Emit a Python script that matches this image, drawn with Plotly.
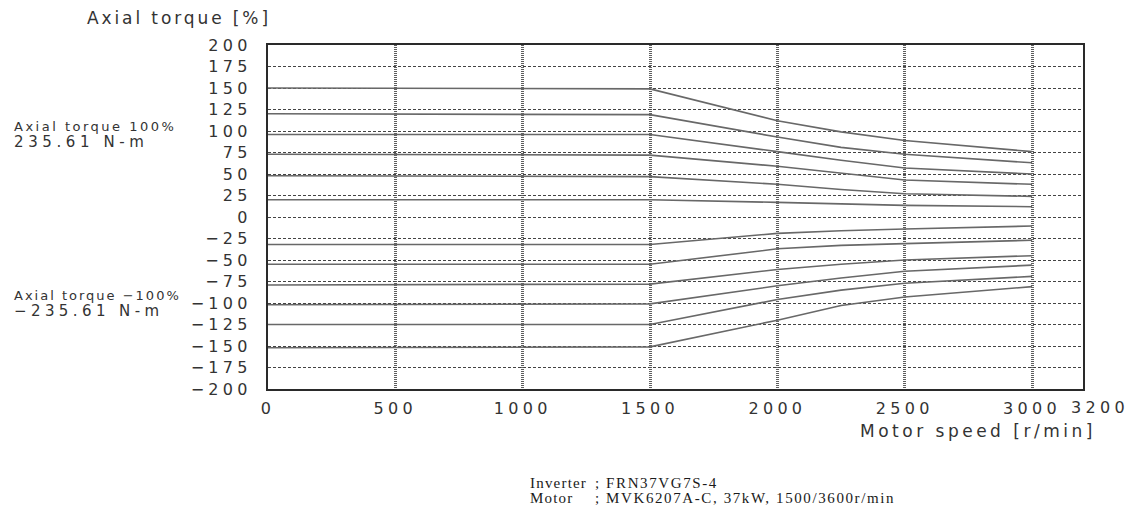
import plotly.graph_objects as go

# ---- data ----
speed = [0, 1500, 2000, 2250, 2500, 3000]

torque_p150 = [150, 149, 112, 99, 89, 76]
torque_p120 = [120, 119, 93, 81, 73, 63]
torque_p100 = [96, 96, 76, 66, 57, 50]
torque_p75 = [73, 72, 59, 51, 43, 38]
torque_p50 = [48, 47, 38, 32, 27, 24]
torque_p20 = [20, 20, 17, 15.5, 13.5, 12]

torque_m30 = [-32, -32, -19, -16, -14, -10.5]
torque_m55 = [-55, -55, -37, -33, -31, -27]
torque_m80 = [-79, -78, -61, -55, -50, -45]
torque_m100 = [-102, -101, -80, -71, -63, -56]
torque_m125 = [-125, -125, -96, -85, -77, -69]
torque_m150 = [-152, -151, -120, -103, -93, -81]

x_ticks = [0, 500, 1000, 1500, 2000, 2500, 3000, 3200]
x_labels = ["0", "500", "1000", "1500", "2000", "2500", "3000", ""]
x_last_label = "3200"   # drawn slightly right of its tick, as in the reference
y_ticks = list(range(-200, 201, 25))

series = [torque_p150, torque_p120, torque_p100, torque_p75, torque_p50, torque_p20,
          torque_m30, torque_m55, torque_m80, torque_m100, torque_m125, torque_m150]

# ---- layout geometry (page body has an 8px margin) ----
OFF = 8
W, H = 1141 - OFF, 510 - OFF
L, T = 268 - OFF, 45 - OFF
R = W - (1083 - OFF)
B = H - (389 - OFF)
PW, PH = W - L - R, H - T - B


def px_x(px):
    return (px - OFF - L) / PW


def px_y(py):
    return (H - B - (py - OFF)) / PH


def sp(text, ls, size=None):
    style = f"letter-spacing:{ls}px"
    if size:
        style += f";font-size:{size}px"
    return f'<span style="{style}">{text}</span>'


def fmt(v):
    return ("\u2212" + str(abs(v))) if v < 0 else str(v)


SANS = "DejaVu Sans"
SERIF = "Liberation Serif"
TXT = "#333333"

fig = go.Figure()
for s in series:
    fig.add_trace(go.Scatter(x=speed, y=s, mode="lines",
                             line=dict(color="#686868", width=1.6),
                             showlegend=False, hoverinfo="skip"))

fig.update_layout(
    width=W, height=H,
    margin=dict(l=L, r=R, t=T, b=B, autoexpand=False),
    paper_bgcolor="white", plot_bgcolor="white",
    showlegend=False,
)

fig.update_xaxes(
    range=[0, 3200], tickvals=x_ticks,
    ticktext=[sp(t, 4.3) if t else "" for t in x_labels],
    tickfont=dict(family=SANS, size=16, color=TXT),
    ticks="", ticklabelstandoff=4, tickangle=0, automargin=False,
    showgrid=True, gridcolor="#5e5e5e", gridwidth=3, griddash="1px,1px",
    showline=True, mirror=True, linecolor="#2a2a2a", linewidth=2,
    zeroline=False,
)
fig.update_yaxes(
    range=[-200, 200], tickvals=y_ticks,
    ticktext=[sp(fmt(v), 4.3) for v in y_ticks],
    tickfont=dict(family=SANS, size=16, color=TXT),
    ticks="", ticklabelstandoff=11, automargin=False,
    showgrid=True, gridcolor="#444444", gridwidth=1.4, griddash="3px,2px",
    showline=True, mirror=True, linecolor="#2a2a2a", linewidth=2,
    zeroline=False,
)

ann = [
    dict(text=sp("Axial torque [%]", 2.9), x=85, y=18, size=17, family=SANS, anchor="left"),
    dict(text=sp("Axial torque 100%", 2.5, 13) + "<br>" + sp("235.61 N-m", 4.6, 15),
         x=12, y=135, size=12.3, family=SANS, anchor="left"),
    dict(text=sp("Axial torque \u2212100%", 2.0, 13) + "<br>" + sp("\u2212235.61 N-m", 4.4, 15),
         x=12, y=304, size=12.3, family=SANS, anchor="left"),
    dict(text=sp(x_last_label, 4.3), x=1100, y=407, size=16, family=SANS, anchor="center"),
    dict(text=sp("Motor speed [r/min]", 3.5), x=1098, y=431, size=17, family=SANS, anchor="right"),
    dict(text=sp("Inverter", 1.2, 15) + "<br>" + sp("Motor", 1.2, 15),
         x=528, y=490, size=11.5, family=SERIF, anchor="left"),
    dict(text=sp("; FRN37VG7S-4", 1.6, 15) + "<br>" + sp("; MVK6207A-C, 37kW, 1500/3600r/min", 1.6, 15),
         x=593, y=490, size=11.5, family=SERIF, anchor="left"),
]
for a in ann:
    color = "#1a1a1a" if a["family"] == SERIF else TXT
    fig.add_annotation(text=a["text"], x=px_x(a["x"]), y=px_y(a["y"]),
                       xref="paper", yref="paper", align="left",
                       xanchor=a["anchor"], yanchor="middle", showarrow=False,
                       font=dict(family=a["family"], size=a["size"], color=color))

fig.write_html("out.html")
